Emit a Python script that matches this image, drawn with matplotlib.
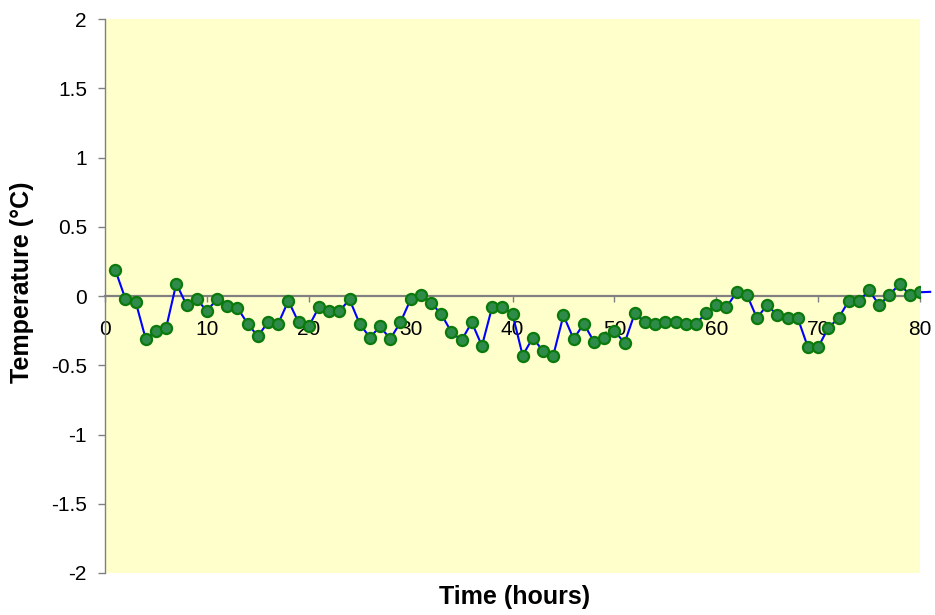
import matplotlib
matplotlib.use('Agg')
import matplotlib.pyplot as plt
import numpy as np

# hourly temperature anomaly
hours = list(range(1, 82))
temps = [0.19, -0.02, -0.04, -0.31, -0.25, -0.23, 0.09, -0.065, -0.02, -0.11,
         -0.02, -0.07, -0.085, -0.20, -0.29, -0.19, -0.20, -0.035, -0.19, -0.22,
         -0.08, -0.11, -0.11, -0.025, -0.20, -0.30, -0.22, -0.31, -0.19, -0.025,
         0.01, -0.05, -0.13, -0.26, -0.32, -0.19, -0.36, -0.08, -0.08, -0.13,
         -0.43, -0.30, -0.40, -0.43, -0.14, -0.31, -0.20, -0.33, -0.30, -0.25,
         -0.34, -0.125, -0.19, -0.20, -0.19, -0.19, -0.20, -0.20, -0.125, -0.065,
         -0.08, 0.027, 0.01, -0.16, -0.063, -0.14, -0.16, -0.16, -0.37, -0.37,
         -0.23, -0.16, -0.036, -0.036, 0.04, -0.065, 0.01, 0.085, 0.01, 0.027,
         0.03]
xticks = [0, 10, 20, 30, 40, 50, 60, 70, 80]
yticks = [-2, -1.5, -1, -0.5, 0, 0.5, 1, 1.5, 2]
ytick_labels = ['-2', '-1.5', '-1', '-0.5', '0', '0.5', '1', '1.5', '2']

plt.rcParams['font.family'] = ['Liberation Sans', 'DejaVu Sans']

fig = plt.figure(figsize=(9.35, 6.15), dpi=100)
ax = fig.add_axes([105 / 935, 42 / 615, 815 / 935, 554 / 615])
ax.set_facecolor('#FFFFCC')

# line runs one step past the right edge, markers stop at 80
ax.plot(hours, temps, color='#0000FF', lw=1.5, clip_on=False, zorder=3)
ax.plot(hours[:80], temps[:80], ls='none', marker='o', ms=8,
        markerfacecolor='#2E8B4A', markeredgecolor='#0B7A0B', mew=1.6, zorder=4)

ax.set_xlim(0, 80)
ax.set_ylim(-2, 2)

# x axis crosses at zero like the Excel original
for s in ['top', 'right']:
    ax.spines[s].set_visible(False)
ax.spines['bottom'].set_position(('data', 0))
ax.spines['bottom'].set_color('#808080')
ax.spines['bottom'].set_linewidth(1.6)
ax.spines['left'].set_color('#808080')
ax.spines['left'].set_linewidth(1.0)

ax.set_xticks(xticks)
ax.set_xticklabels([str(t) for t in xticks])
ax.set_yticks(yticks)
ax.set_yticklabels(ytick_labels)
ax.tick_params(axis='x', direction='out', length=4, width=1, color='#808080',
               pad=13.5, labelsize=15)
ax.tick_params(axis='y', direction='out', length=5, width=1, color='#808080',
               pad=8, labelsize=15)

fig.text(515 / 935, 1 - 597 / 615, 'Time (hours)', ha='center', va='center',
         fontsize=18, fontweight='bold')
fig.text(22 / 935, 1 - 282 / 615, 'Temperature (°C)', ha='center', va='center',
         rotation=90, fontsize=18, fontweight='bold')

fig.savefig('out.png', dpi=100)
